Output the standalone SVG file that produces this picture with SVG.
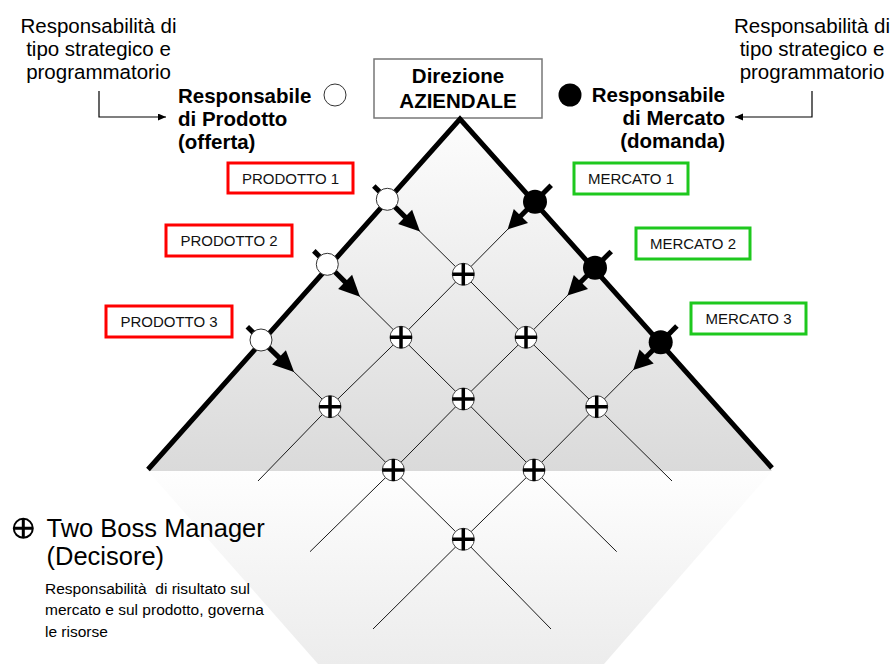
<svg xmlns="http://www.w3.org/2000/svg" xmlns:xlink="http://www.w3.org/1999/xlink" width="893" height="664" viewBox="0 0 893 664">
<style>
text{font-family:"Liberation Sans",Arial,sans-serif;fill:#000}
.t20{font-size:20.5px}
.b20{font-size:20.5px;font-weight:bold}
.lbl{font-size:15px;fill:#111}
.big{font-size:25.5px}
.small{font-size:15.5px}
.thin{fill:none;stroke:#1a1a1a;stroke-width:1}
.thick{fill:none;stroke:#000;stroke-width:5}
.stub{stroke:#000;stroke-width:5;fill:none}
.red{fill:#fff;stroke:#f00;stroke-width:3}
.green{fill:#fff;stroke:#1ec81e;stroke-width:3}
.ptr{fill:none;stroke:#000;stroke-width:1.2}
</style>
<defs>
<linearGradient id="gTop" gradientUnits="userSpaceOnUse" x1="0" y1="119" x2="0" y2="471">
<stop offset="0" stop-color="#fdfdfd"/><stop offset="1" stop-color="#dadada"/>
</linearGradient>
<linearGradient id="gBot" gradientUnits="userSpaceOnUse" x1="0" y1="471" x2="0" y2="664">
<stop offset="0" stop-color="#fefefe"/><stop offset="1" stop-color="#ececec"/>
</linearGradient>
<marker id="ah" markerUnits="userSpaceOnUse" markerWidth="9" markerHeight="8" refX="8" refY="3.5" orient="auto">
<path d="M0,0 L8,3.5 L0,7 z" fill="#000"/>
</marker>
<g id="boss">
<circle r="11" fill="#fff" stroke="#444" stroke-width="1"/>
<path d="M0,-11V11M-11,0H11" stroke="#000" stroke-width="3.5"/>
</g>
</defs>

<rect width="893" height="664" fill="#fff"/>

<!-- background shapes -->
<polygon points="148,471 772,471 604,664 318,664" fill="url(#gBot)"/>
<polygon points="460,119 148,471 772,471" fill="url(#gTop)"/>

<!-- top texts -->
<g id="note-left">
<text class="t20" x="98.5" y="33" text-anchor="middle">Responsabilità di</text>
<text class="t20" x="98.5" y="56" text-anchor="middle">tipo strategico e</text>
<text class="t20" x="98.5" y="79" text-anchor="middle">programmatorio</text>
</g>
<g id="note-right">
<text class="t20" x="812" y="33" text-anchor="middle">Responsabilità di</text>
<text class="t20" x="812" y="56" text-anchor="middle">tipo strategico e</text>
<text class="t20" x="812" y="79" text-anchor="middle">programmatorio</text>
</g>
<g id="resp-prodotto">
<text class="b20" x="178" y="103">Responsabile</text>
<text class="b20" x="178" y="126">di Prodotto</text>
<text class="b20" x="178" y="149">(offerta)</text>
<circle cx="335" cy="95" r="11" fill="#fff" stroke="#333" stroke-width="1"/>
</g>
<g id="resp-mercato">
<text class="b20" x="725" y="102" text-anchor="end">Responsabile</text>
<text class="b20" x="725" y="125" text-anchor="end">di Mercato</text>
<text class="b20" x="725" y="148" text-anchor="end">(domanda)</text>
<circle cx="570" cy="95" r="11.5" fill="#000"/>
</g>
<g id="direzione">
<rect x="374" y="59" width="168" height="59" fill="#fff" stroke="#777" stroke-width="1.5"/>
<text class="b20" x="458" y="83" text-anchor="middle">Direzione</text>
<text class="b20" x="458" y="108" text-anchor="middle">AZIENDALE</text>
</g>

<!-- connectors -->
<g id="connectors">
<path class="ptr" d="M99,91V117H166" marker-end="url(#ah)"/>
<path class="ptr" d="M812,91V117H735" marker-end="url(#ah)"/>
<polyline class="thin" points="387.3,199.3 463.3,274.3 526,337.3 596.7,406.7 672,481"/>
<polyline class="thin" points="327.3,264.3 401,337.3 463.3,399 534,470 616.7,551.7"/>
<polyline class="thin" points="261,340 330,406.7 393.3,470 463.3,539.3 551,629"/>
<polyline class="thin" points="535,201.7 463.3,274.3 401,337.3 330,406.7 258,481"/>
<polyline class="thin" points="595,267.7 526,337.3 463.3,399 393.3,470 310,551.7"/>
<polyline class="thin" points="660.7,342.3 596.7,406.7 534,470 463.3,539.3 373,629"/>
<polyline class="thick" points="148,469.5 460,119 772,468"/>
</g>

<!-- product labels -->
<g id="prodotto1"><rect class="red" x="228" y="163" width="125" height="30"/><text class="lbl" x="290.5" y="183.5" text-anchor="middle">PRODOTTO 1</text></g>
<g id="prodotto2"><rect class="red" x="166" y="225" width="126" height="31"/><text class="lbl" x="229" y="246" text-anchor="middle">PRODOTTO 2</text></g>
<g id="prodotto3"><rect class="red" x="106" y="306" width="126" height="31"/><text class="lbl" x="169" y="327" text-anchor="middle">PRODOTTO 3</text></g>
<g id="mercato1"><rect class="green" x="574" y="163" width="114" height="31"/><text class="lbl" x="631" y="184" text-anchor="middle">MERCATO 1</text></g>
<g id="mercato2"><rect class="green" x="636" y="228" width="114" height="31"/><text class="lbl" x="693" y="249" text-anchor="middle">MERCATO 2</text></g>
<g id="mercato3"><rect class="green" x="691" y="303" width="115" height="31"/><text class="lbl" x="748.5" y="324" text-anchor="middle">MERCATO 3</text></g>

<!-- product markers -->
<g id="pm1">
<path class="stub" d="M373.8,186 L405.8,217.6"/>
<polygon points="398.1,224 412.1,209.8 420,231.6" fill="#000"/>
<circle cx="387.3" cy="199.3" r="11" fill="#fff" stroke="#333" stroke-width="1"/>
</g>
<g id="pm2">
<path class="stub" d="M313.8,250.9 L345.8,282.6"/>
<polygon points="338.1,289 352.1,274.8 360,296.7" fill="#000"/>
<circle cx="327.3" cy="264.3" r="11" fill="#fff" stroke="#333" stroke-width="1"/>
</g>
<g id="pm3">
<path class="stub" d="M247.3,326.8 L279.7,358.1"/>
<polygon points="272.1,364.6 285.9,350.2 294.1,372" fill="#000"/>
<circle cx="261" cy="340" r="11" fill="#fff" stroke="#333" stroke-width="1"/>
</g>

<!-- market markers -->
<g id="mm1">
<path class="stub" d="M551.2,185.3 L520.2,216.6"/>
<polygon points="513.8,208.9 528,222.9 507.6,229.5" fill="#000"/>
<circle cx="535" cy="201.7" r="12" fill="#000"/>
</g>
<g id="mm2">
<path class="stub" d="M611.2,251.4 L580.2,282.6"/>
<polygon points="573.8,274.9 588,288.9 567.5,295.4" fill="#000"/>
<circle cx="595" cy="267.7" r="12" fill="#000"/>
</g>
<g id="mm3">
<path class="stub" d="M676.9,326 L645.9,357.2"/>
<polygon points="639.5,349.5 653.7,363.5 633.2,370" fill="#000"/>
<circle cx="660.7" cy="342.3" r="12" fill="#000"/>
</g>

<!-- two boss nodes -->
<g id="n00" transform="translate(463.3,274.3)"><use xlink:href="#boss" href="#boss"/></g>
<g id="n01" transform="translate(526,337.3)"><use xlink:href="#boss" href="#boss"/></g>
<g id="n02" transform="translate(596.7,406.7)"><use xlink:href="#boss" href="#boss"/></g>
<g id="n10" transform="translate(401,337.3)"><use xlink:href="#boss" href="#boss"/></g>
<g id="n11" transform="translate(463.3,399)"><use xlink:href="#boss" href="#boss"/></g>
<g id="n12" transform="translate(534,470)"><use xlink:href="#boss" href="#boss"/></g>
<g id="n20" transform="translate(330,406.7)"><use xlink:href="#boss" href="#boss"/></g>
<g id="n21" transform="translate(393.3,470)"><use xlink:href="#boss" href="#boss"/></g>
<g id="n22" transform="translate(463.3,539.3)"><use xlink:href="#boss" href="#boss"/></g>

<!-- legend -->
<g id="legend">
<circle cx="23.3" cy="528.3" r="9.5" fill="#fff" stroke="#000" stroke-width="2"/>
<path d="M23.3,518.8V537.8M13.8,528.3H32.8" stroke="#000" stroke-width="3"/>
<text class="big" x="46.5" y="536.5">Two Boss Manager</text>
<text class="big" x="46.5" y="565">(Decisore)</text>
<text class="small" x="45" y="593.5" xml:space="preserve">Responsabilità  di risultato sul</text>
<text class="small" x="45" y="615">mercato e sul prodotto, governa</text>
<text class="small" x="45" y="636.5">le risorse</text>
</g>
</svg>
